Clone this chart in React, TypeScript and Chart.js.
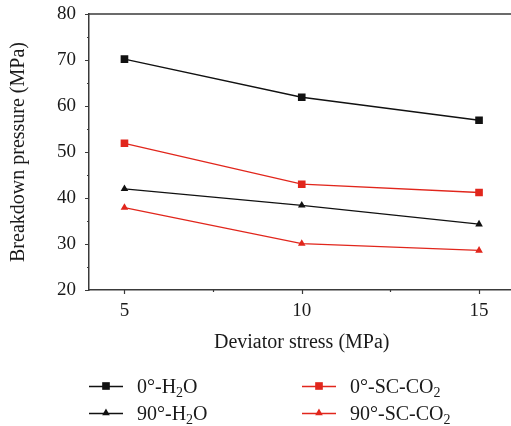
import React, { useEffect, useRef } from "react";
import { Chart, registerables } from "chart.js";

Chart.register(...registerables);

// ---- data ----
const deviatorStress = [5, 10, 15];
const h2o0 = [70.2, 61.9, 56.9];
const scco2_0 = [51.9, 43.0, 41.2];
const h2o90 = [42.0, 38.4, 34.3];
const scco2_90 = [37.9, 30.1, 28.6];
const seriesLabels = ["0°-H₂O", "0°-SC-CO₂", "90°-H₂O", "90°-SC-CO₂"];
const xTickValues = [5, 7.5, 10, 12.5, 15];
const yTickValues = [20, 25, 30, 35, 40, 45, 50, 55, 60, 65, 70, 75, 80];

const BLACK = "#111111";
const RED = "#e1261c";
const AXIS = "#3a3a3a";
const TEXT = "#1a1a1a";
const FONT_FAMILY = "'Liberation Serif', 'DejaVu Serif', serif";
const TICK_SIZE = 19;
const TITLE_SIZE = 20;
const LEGEND_SIZE = 20;

function drawMarker(ctx: CanvasRenderingContext2D, style: string, x: number, y: number, r: number, color: string) {
  ctx.fillStyle = color;
  ctx.beginPath();
  if (style === "rect") {
    const s = Math.SQRT1_2 * r;
    ctx.rect(x - s, y - s, 2 * s, 2 * s);
  } else {
    let rad = 0;
    ctx.moveTo(x + Math.sin(rad) * r, y - Math.cos(rad) * r);
    rad += (2 * Math.PI) / 3;
    ctx.lineTo(x + Math.sin(rad) * r, y - Math.cos(rad) * r);
    rad += (2 * Math.PI) / 3;
    ctx.lineTo(x + Math.sin(rad) * r, y - Math.cos(rad) * r);
    ctx.closePath();
  }
  ctx.fill();
}

function drawRich(ctx: CanvasRenderingContext2D, text: string, x: number, y: number) {
  const main = `${LEGEND_SIZE}px ${FONT_FAMILY}`;
  const sub = `14px ${FONT_FAMILY}`;
  let cx = x;
  const parts = text.split(/(₂)/);
  for (const p of parts) {
    if (!p) continue;
    if (p === "₂") {
      ctx.font = sub;
      ctx.fillText("2", cx, y + 4);
      cx += ctx.measureText("2").width;
    } else {
      ctx.font = main;
      ctx.fillText(p, cx, y);
      cx += ctx.measureText(p).width;
    }
  }
}

// legend layout: [dataset index, column x, row baseline]
const legendLayout: Array<[number, number, number]> = [
  [0, 89, 393],
  [2, 89, 420],
  [1, 302, 393],
  [3, 302, 420],
];

const decorPlugin = {
  id: "decor",
  afterDraw(chart: any) {
    const { ctx, chartArea, scales } = chart;
    const x = scales.x;
    const y = scales.y;
    ctx.save();
    ctx.strokeStyle = AXIS;
    ctx.lineWidth = 1.2;
    ctx.beginPath();
    yTickValues.forEach((v) => {
      const py = Math.round(y.getPixelForValue(v)) + 0.5;
      const len = v % 10 === 0 ? 4 : 2;
      ctx.moveTo(chartArea.left - len, py);
      ctx.lineTo(chartArea.left, py);
    });
    xTickValues.forEach((v) => {
      const px = Math.round(x.getPixelForValue(v)) + 0.5;
      const len = v % 5 === 0 ? 4 : 2;
      ctx.moveTo(px, chartArea.bottom);
      ctx.lineTo(px, chartArea.bottom + len);
    });
    ctx.stroke();
    // top frame
    ctx.lineWidth = 1.5;
    ctx.beginPath();
    ctx.moveTo(chartArea.left, chartArea.top);
    ctx.lineTo(chart.width, chartArea.top);
    ctx.stroke();

    // legend
    ctx.textBaseline = "alphabetic";
    ctx.textAlign = "left";
    legendLayout.forEach(([di, lx, baseline]) => {
      const ds = chart.data.datasets[di];
      const cy = baseline - 7;
      ctx.strokeStyle = ds.borderColor;
      ctx.lineWidth = 1.3;
      ctx.beginPath();
      ctx.moveTo(lx, cy + 0.5);
      ctx.lineTo(lx + 34, cy + 0.5);
      ctx.stroke();
      drawMarker(ctx, ds.pointStyle, lx + 17, cy, ds.pointRadius, ds.borderColor);
      ctx.fillStyle = TEXT;
      drawRich(ctx, ds.label, lx + 48, baseline);
    });
    ctx.restore();
  },
};

export default function App() {
  const ref = useRef<HTMLCanvasElement>(null);
  useEffect(() => {
    const canvas = ref.current!;
    const mk = (vals: number[]) => deviatorStress.map((xv, i) => ({ x: xv, y: vals[i] }));
    const tickFont = { family: FONT_FAMILY, size: TICK_SIZE };
    const titleFont = { family: FONT_FAMILY, size: TITLE_SIZE };
    const mkDs = (label: string, vals: number[], color: string, style: string, r: number) => ({
      label,
      data: mk(vals),
      borderColor: color,
      backgroundColor: color,
      pointBackgroundColor: color,
      pointBorderColor: color,
      pointBorderWidth: 0,
      pointStyle: style,
      pointRadius: r,
      borderWidth: 1.3,
      tension: 0,
      fill: false,
    });
    const chart = new Chart(canvas, {
      type: "line",
      data: {
        datasets: [
          mkDs(seriesLabels[0], h2o0, BLACK, "rect", 5.4),
          mkDs(seriesLabels[1], scco2_0, RED, "rect", 5.4),
          mkDs(seriesLabels[2], h2o90, BLACK, "triangle", 4.4),
          mkDs(seriesLabels[3], scco2_90, RED, "triangle", 4.4),
        ] as any,
      },
      options: {
        responsive: false,
        animation: false,
        layout: { padding: { left: 0, top: 14, right: 5.5, bottom: 71 } },
        plugins: { legend: { display: false }, tooltip: { enabled: false } },
        scales: {
          x: {
            type: "linear",
            min: 4,
            max: 16,
            afterBuildTicks: (s: any) => {
              s.ticks = xTickValues.map((v) => ({ value: v }));
            },
            afterFit: (s: any) => {
              s.height = 65;
              s.paddingLeft = 0;
              s.paddingRight = 0;
            },
            grid: { display: false, drawTicks: false },
            border: { display: true, color: AXIS, width: 1.5 },
            ticks: {
              padding: 10,
              font: tickFont,
              color: TEXT,
              autoSkip: false,
              maxRotation: 0,
              callback: (v: any) => (Number(v) % 5 === 0 ? String(v) : ""),
            },
            title: {
              display: true,
              text: "Deviator stress (MPa)",
              font: titleFont,
              color: TEXT,
              padding: { top: 0, bottom: 0 },
            },
          },
          y: {
            min: 20,
            max: 80,
            afterBuildTicks: (s: any) => {
              s.ticks = yTickValues.map((v) => ({ value: v }));
            },
            afterFit: (s: any) => {
              s.width = 89;
              s.paddingTop = 0;
              s.paddingBottom = 0;
            },
            grid: { display: false, drawTicks: false },
            border: { display: true, color: AXIS, width: 1.5 },
            ticks: {
              padding: 13,
              font: tickFont,
              color: TEXT,
              autoSkip: false,
              callback: (v: any) => (Number(v) % 10 === 0 ? String(v) : ""),
            },
            title: {
              display: true,
              text: "Breakdown pressure (MPa)",
              font: titleFont,
              color: TEXT,
              padding: { top: 6.5, bottom: 0 },
            },
          },
        },
      },
      plugins: [decorPlugin],
    });
    return () => chart.destroy();
  }, []);
  return (
    <div
      style={{
        position: "fixed",
        left: 0,
        top: 0,
        width: 511,
        height: 426,
        overflow: "hidden",
        background: "#ffffff",
      }}
    >
      <canvas ref={ref} width={520} height={426} style={{ display: "block" }} />
    </div>
  );
}
